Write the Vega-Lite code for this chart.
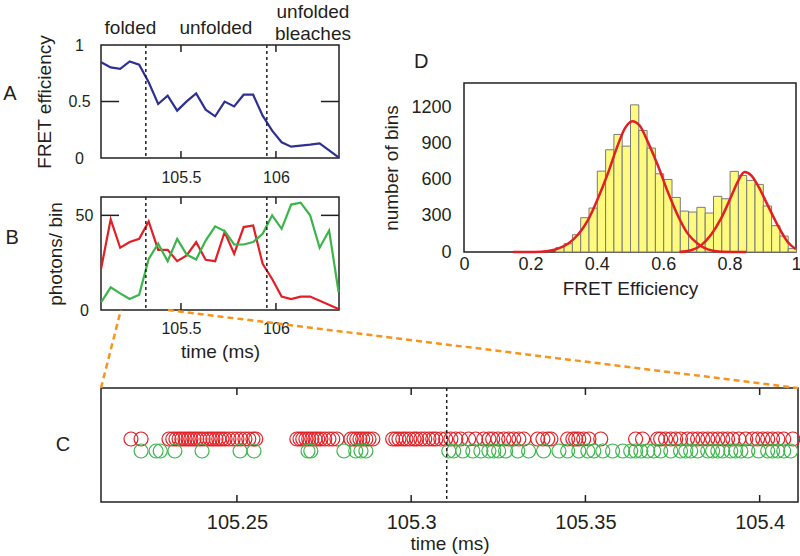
{
  "$schema": "https://vega.github.io/schema/vega-lite/v6.json",
  "padding": {"left": 2, "top": 2, "right": 0, "bottom": 0},
  "background": "white",
  "config": {
    "font": "Liberation Sans",
    "view": {"stroke": "#231f20", "strokeWidth": 1.5},
    "axis": {"domain": false, "grid": false, "ticks": false, "tickSize": 0, "labelColor": "#231f20", "titleColor": "#231f20", "titleFontWeight": "normal", "labelFlush": false, "labelOverlap": false, "titleFontSize": 19, "labelFontSize": 16, "labelExpr": "'' + datum.value"},
    "title": {"fontWeight": "normal", "color": "#231f20", "fontSize": 20},
    "rule": {"color": "#231f20", "strokeWidth": 1.5}
  },
  "datasets": {
    "fret": [
      {"t": 105.08, "E": 0.847}, {"t": 105.13, "E": 0.802}, {"t": 105.18, "E": 0.788}, {"t": 105.23, "E": 0.855},
      {"t": 105.28, "E": 0.826}, {"t": 105.33, "E": 0.670}, {"t": 105.38, "E": 0.478}, {"t": 105.43, "E": 0.552},
      {"t": 105.48, "E": 0.419}, {"t": 105.53, "E": 0.501}, {"t": 105.58, "E": 0.572}, {"t": 105.63, "E": 0.428},
      {"t": 105.68, "E": 0.369}, {"t": 105.73, "E": 0.499}, {"t": 105.78, "E": 0.457}, {"t": 105.83, "E": 0.560},
      {"t": 105.88, "E": 0.560}, {"t": 105.93, "E": 0.375}, {"t": 105.98, "E": 0.242}, {"t": 106.03, "E": 0.139},
      {"t": 106.08, "E": 0.100}, {"t": 106.18, "E": 0.118}, {"t": 106.23, "E": 0.130}, {"t": 106.33, "E": 0.006}
    ],
    "photons": [
      {"t": 105.08, "n": 22.1, "ch": "acceptor"}, {"t": 105.13, "n": 47.9, "ch": "acceptor"}, {"t": 105.18, "n": 32.9, "ch": "acceptor"},
      {"t": 105.23, "n": 35.9, "ch": "acceptor"}, {"t": 105.28, "n": 37.6, "ch": "acceptor"}, {"t": 105.33, "n": 46.8, "ch": "acceptor"},
      {"t": 105.38, "n": 31.8, "ch": "acceptor"}, {"t": 105.43, "n": 31.8, "ch": "acceptor"}, {"t": 105.48, "n": 25.8, "ch": "acceptor"},
      {"t": 105.53, "n": 28.8, "ch": "acceptor"}, {"t": 105.58, "n": 35.9, "ch": "acceptor"}, {"t": 105.63, "n": 26.5, "ch": "acceptor"},
      {"t": 105.68, "n": 25.8, "ch": "acceptor"}, {"t": 105.73, "n": 41.2, "ch": "acceptor"}, {"t": 105.78, "n": 29.7, "ch": "acceptor"},
      {"t": 105.83, "n": 43.8, "ch": "acceptor"}, {"t": 105.88, "n": 44.7, "ch": "acceptor"}, {"t": 105.93, "n": 24.4, "ch": "acceptor"},
      {"t": 105.98, "n": 16.4, "ch": "acceptor"}, {"t": 106.03, "n": 7.1, "ch": "acceptor"}, {"t": 106.08, "n": 5.8, "ch": "acceptor"},
      {"t": 106.13, "n": 7.1, "ch": "acceptor"}, {"t": 106.18, "n": 7.1, "ch": "acceptor"}, {"t": 106.33, "n": 0.5, "ch": "acceptor"},
      {"t": 105.08, "n": 4.1, "ch": "donor"}, {"t": 105.13, "n": 12.0, "ch": "donor"}, {"t": 105.18, "n": 8.8, "ch": "donor"},
      {"t": 105.23, "n": 5.8, "ch": "donor"}, {"t": 105.28, "n": 8.1, "ch": "donor"}, {"t": 105.33, "n": 27.0, "ch": "donor"},
      {"t": 105.38, "n": 35.0, "ch": "donor"}, {"t": 105.43, "n": 25.8, "ch": "donor"}, {"t": 105.48, "n": 37.6, "ch": "donor"},
      {"t": 105.53, "n": 29.3, "ch": "donor"}, {"t": 105.58, "n": 26.7, "ch": "donor"}, {"t": 105.63, "n": 36.7, "ch": "donor"},
      {"t": 105.68, "n": 44.2, "ch": "donor"}, {"t": 105.73, "n": 41.7, "ch": "donor"}, {"t": 105.78, "n": 34.6, "ch": "donor"},
      {"t": 105.83, "n": 34.6, "ch": "donor"}, {"t": 105.88, "n": 35.9, "ch": "donor"}, {"t": 105.93, "n": 40.3, "ch": "donor"},
      {"t": 105.98, "n": 50.0, "ch": "donor"}, {"t": 106.03, "n": 42.9, "ch": "donor"}, {"t": 106.08, "n": 55.7, "ch": "donor"},
      {"t": 106.13, "n": 56.7, "ch": "donor"}, {"t": 106.18, "n": 50.0, "ch": "donor"}, {"t": 106.23, "n": 32.9, "ch": "donor"},
      {"t": 106.28, "n": 42.0, "ch": "donor"}, {"t": 106.33, "n": 9.4, "ch": "donor"}
    ],
    "arrivals": [
      {"t": 105.2196, "ch": "acceptor"}, {"t": 105.2225, "ch": "acceptor"}, {"t": 105.2305, "ch": "acceptor"}, {"t": 105.2316, "ch": "acceptor"},
      {"t": 105.2325, "ch": "acceptor"}, {"t": 105.2334, "ch": "acceptor"}, {"t": 105.2342, "ch": "acceptor"}, {"t": 105.2351, "ch": "acceptor"},
      {"t": 105.2360, "ch": "acceptor"}, {"t": 105.2368, "ch": "acceptor"}, {"t": 105.2377, "ch": "acceptor"}, {"t": 105.2385, "ch": "acceptor"},
      {"t": 105.2394, "ch": "acceptor"}, {"t": 105.2403, "ch": "acceptor"}, {"t": 105.2414, "ch": "acceptor"}, {"t": 105.2423, "ch": "acceptor"},
      {"t": 105.2431, "ch": "acceptor"}, {"t": 105.2440, "ch": "acceptor"}, {"t": 105.2448, "ch": "acceptor"}, {"t": 105.2457, "ch": "acceptor"},
      {"t": 105.2466, "ch": "acceptor"}, {"t": 105.2477, "ch": "acceptor"}, {"t": 105.2489, "ch": "acceptor"}, {"t": 105.2500, "ch": "acceptor"},
      {"t": 105.2511, "ch": "acceptor"}, {"t": 105.2523, "ch": "acceptor"}, {"t": 105.2534, "ch": "acceptor"}, {"t": 105.2546, "ch": "acceptor"},
      {"t": 105.2554, "ch": "acceptor"}, {"t": 105.2672, "ch": "acceptor"}, {"t": 105.2681, "ch": "acceptor"}, {"t": 105.2689, "ch": "acceptor"},
      {"t": 105.2698, "ch": "acceptor"}, {"t": 105.2706, "ch": "acceptor"}, {"t": 105.2715, "ch": "acceptor"}, {"t": 105.2724, "ch": "acceptor"},
      {"t": 105.2732, "ch": "acceptor"}, {"t": 105.2741, "ch": "acceptor"}, {"t": 105.2752, "ch": "acceptor"}, {"t": 105.2764, "ch": "acceptor"},
      {"t": 105.2775, "ch": "acceptor"}, {"t": 105.2787, "ch": "acceptor"}, {"t": 105.2827, "ch": "acceptor"}, {"t": 105.2836, "ch": "acceptor"},
      {"t": 105.2844, "ch": "acceptor"}, {"t": 105.2853, "ch": "acceptor"}, {"t": 105.2861, "ch": "acceptor"}, {"t": 105.2870, "ch": "acceptor"},
      {"t": 105.2879, "ch": "acceptor"}, {"t": 105.2890, "ch": "acceptor"}, {"t": 105.2947, "ch": "acceptor"}, {"t": 105.2956, "ch": "acceptor"},
      {"t": 105.2965, "ch": "acceptor"}, {"t": 105.2976, "ch": "acceptor"}, {"t": 105.2985, "ch": "acceptor"}, {"t": 105.2996, "ch": "acceptor"},
      {"t": 105.3008, "ch": "acceptor"}, {"t": 105.3016, "ch": "acceptor"}, {"t": 105.3028, "ch": "acceptor"}, {"t": 105.3039, "ch": "acceptor"},
      {"t": 105.3051, "ch": "acceptor"}, {"t": 105.3062, "ch": "acceptor"}, {"t": 105.3071, "ch": "acceptor"}, {"t": 105.3085, "ch": "acceptor"},
      {"t": 105.3099, "ch": "acceptor"}, {"t": 105.3114, "ch": "acceptor"}, {"t": 105.3128, "ch": "acceptor"}, {"t": 105.3142, "ch": "acceptor"},
      {"t": 105.3165, "ch": "acceptor"}, {"t": 105.3185, "ch": "acceptor"}, {"t": 105.3208, "ch": "acceptor"}, {"t": 105.3223, "ch": "acceptor"},
      {"t": 105.3234, "ch": "acceptor"}, {"t": 105.3249, "ch": "acceptor"}, {"t": 105.3266, "ch": "acceptor"}, {"t": 105.3280, "ch": "acceptor"},
      {"t": 105.3294, "ch": "acceptor"}, {"t": 105.3309, "ch": "acceptor"}, {"t": 105.3323, "ch": "acceptor"}, {"t": 105.3363, "ch": "acceptor"},
      {"t": 105.3378, "ch": "acceptor"}, {"t": 105.3392, "ch": "acceptor"}, {"t": 105.3401, "ch": "acceptor"}, {"t": 105.3449, "ch": "acceptor"},
      {"t": 105.3464, "ch": "acceptor"}, {"t": 105.3472, "ch": "acceptor"}, {"t": 105.3481, "ch": "acceptor"}, {"t": 105.3495, "ch": "acceptor"},
      {"t": 105.3510, "ch": "acceptor"}, {"t": 105.3544, "ch": "acceptor"}, {"t": 105.3644, "ch": "acceptor"}, {"t": 105.3664, "ch": "acceptor"},
      {"t": 105.3707, "ch": "acceptor"}, {"t": 105.3716, "ch": "acceptor"}, {"t": 105.3730, "ch": "acceptor"}, {"t": 105.3745, "ch": "acceptor"},
      {"t": 105.3759, "ch": "acceptor"}, {"t": 105.3773, "ch": "acceptor"}, {"t": 105.3793, "ch": "acceptor"}, {"t": 105.3808, "ch": "acceptor"},
      {"t": 105.3822, "ch": "acceptor"}, {"t": 105.3837, "ch": "acceptor"}, {"t": 105.3851, "ch": "acceptor"}, {"t": 105.3865, "ch": "acceptor"},
      {"t": 105.3880, "ch": "acceptor"}, {"t": 105.3894, "ch": "acceptor"}, {"t": 105.3908, "ch": "acceptor"}, {"t": 105.3923, "ch": "acceptor"},
      {"t": 105.3940, "ch": "acceptor"}, {"t": 105.3960, "ch": "acceptor"}, {"t": 105.3980, "ch": "acceptor"}, {"t": 105.3994, "ch": "acceptor"},
      {"t": 105.4009, "ch": "acceptor"}, {"t": 105.4023, "ch": "acceptor"}, {"t": 105.4037, "ch": "acceptor"}, {"t": 105.4052, "ch": "acceptor"},
      {"t": 105.4069, "ch": "acceptor"}, {"t": 105.4095, "ch": "acceptor"},
      {"t": 105.2225, "ch": "donor"}, {"t": 105.2268, "ch": "donor"}, {"t": 105.2280, "ch": "donor"}, {"t": 105.2322, "ch": "donor"},
      {"t": 105.2400, "ch": "donor"}, {"t": 105.2509, "ch": "donor"}, {"t": 105.2549, "ch": "donor"}, {"t": 105.2704, "ch": "donor"},
      {"t": 105.2712, "ch": "donor"}, {"t": 105.2807, "ch": "donor"}, {"t": 105.2841, "ch": "donor"}, {"t": 105.2856, "ch": "donor"},
      {"t": 105.2870, "ch": "donor"}, {"t": 105.3108, "ch": "donor"}, {"t": 105.3122, "ch": "donor"}, {"t": 105.3148, "ch": "donor"},
      {"t": 105.3177, "ch": "donor"}, {"t": 105.3200, "ch": "donor"}, {"t": 105.3223, "ch": "donor"}, {"t": 105.3237, "ch": "donor"},
      {"t": 105.3251, "ch": "donor"}, {"t": 105.3271, "ch": "donor"}, {"t": 105.3306, "ch": "donor"}, {"t": 105.3337, "ch": "donor"},
      {"t": 105.3380, "ch": "donor"}, {"t": 105.3424, "ch": "donor"}, {"t": 105.3449, "ch": "donor"}, {"t": 105.3481, "ch": "donor"},
      {"t": 105.3507, "ch": "donor"}, {"t": 105.3524, "ch": "donor"}, {"t": 105.3550, "ch": "donor"}, {"t": 105.3578, "ch": "donor"},
      {"t": 105.3607, "ch": "donor"}, {"t": 105.3630, "ch": "donor"}, {"t": 105.3644, "ch": "donor"}, {"t": 105.3659, "ch": "donor"},
      {"t": 105.3679, "ch": "donor"}, {"t": 105.3696, "ch": "donor"}, {"t": 105.3716, "ch": "donor"}, {"t": 105.3745, "ch": "donor"},
      {"t": 105.3773, "ch": "donor"}, {"t": 105.3788, "ch": "donor"}, {"t": 105.3802, "ch": "donor"}, {"t": 105.3822, "ch": "donor"},
      {"t": 105.3851, "ch": "donor"}, {"t": 105.3865, "ch": "donor"}, {"t": 105.3880, "ch": "donor"}, {"t": 105.3894, "ch": "donor"},
      {"t": 105.3917, "ch": "donor"}, {"t": 105.3931, "ch": "donor"}, {"t": 105.3946, "ch": "donor"}, {"t": 105.3966, "ch": "donor"},
      {"t": 105.3997, "ch": "donor"}, {"t": 105.4023, "ch": "donor"}, {"t": 105.4037, "ch": "donor"}, {"t": 105.4052, "ch": "donor"},
      {"t": 105.4069, "ch": "donor"}, {"t": 105.4089, "ch": "donor"}
    ],
    "hist": [
      {"lo": 0.275, "hi": 0.300, "n": 36}, {"lo": 0.300, "hi": 0.325, "n": 69}, {"lo": 0.325, "hi": 0.350, "n": 143},
      {"lo": 0.350, "hi": 0.375, "n": 284}, {"lo": 0.375, "hi": 0.400, "n": 364}, {"lo": 0.400, "hi": 0.425, "n": 670},
      {"lo": 0.425, "hi": 0.450, "n": 847}, {"lo": 0.450, "hi": 0.475, "n": 974}, {"lo": 0.475, "hi": 0.500, "n": 877},
      {"lo": 0.500, "hi": 0.525, "n": 1219}, {"lo": 0.525, "hi": 0.550, "n": 1007}, {"lo": 0.550, "hi": 0.575, "n": 861},
      {"lo": 0.575, "hi": 0.600, "n": 648}, {"lo": 0.600, "hi": 0.625, "n": 601}, {"lo": 0.625, "hi": 0.650, "n": 452},
      {"lo": 0.650, "hi": 0.675, "n": 339}, {"lo": 0.675, "hi": 0.700, "n": 331}, {"lo": 0.700, "hi": 0.725, "n": 370},
      {"lo": 0.725, "hi": 0.750, "n": 323}, {"lo": 0.750, "hi": 0.775, "n": 461}, {"lo": 0.775, "hi": 0.800, "n": 441},
      {"lo": 0.800, "hi": 0.825, "n": 668}, {"lo": 0.825, "hi": 0.850, "n": 634}, {"lo": 0.850, "hi": 0.875, "n": 593},
      {"lo": 0.875, "hi": 0.900, "n": 560}, {"lo": 0.900, "hi": 0.925, "n": 381}, {"lo": 0.925, "hi": 0.950, "n": 218},
      {"lo": 0.950, "hi": 0.975, "n": 132}, {"lo": 0.975, "hi": 1.000, "n": 28}
    ],
    "fits": [
      {"peak": "unfolded", "e": 0.147, "n": 0}, {"peak": "unfolded", "e": 0.213, "n": 0}, {"peak": "unfolded", "e": 0.253, "n": 8},
      {"peak": "unfolded", "e": 0.283, "n": 28}, {"peak": "unfolded", "e": 0.313, "n": 69}, {"peak": "unfolded", "e": 0.343, "n": 143},
      {"peak": "unfolded", "e": 0.373, "n": 262}, {"peak": "unfolded", "e": 0.403, "n": 441}, {"peak": "unfolded", "e": 0.433, "n": 648},
      {"peak": "unfolded", "e": 0.463, "n": 883}, {"peak": "unfolded", "e": 0.485, "n": 1026}, {"peak": "unfolded", "e": 0.507, "n": 1084},
      {"peak": "unfolded", "e": 0.529, "n": 1048}, {"peak": "unfolded", "e": 0.554, "n": 910}, {"peak": "unfolded", "e": 0.584, "n": 717},
      {"peak": "unfolded", "e": 0.614, "n": 497}, {"peak": "unfolded", "e": 0.644, "n": 303}, {"peak": "unfolded", "e": 0.674, "n": 152},
      {"peak": "unfolded", "e": 0.704, "n": 69}, {"peak": "unfolded", "e": 0.734, "n": 22}, {"peak": "unfolded", "e": 0.774, "n": 3},
      {"peak": "unfolded", "e": 0.850, "n": 0},
      {"peak": "folded", "e": 0.649, "n": 0}, {"peak": "folded", "e": 0.684, "n": 14}, {"peak": "folded", "e": 0.714, "n": 55},
      {"peak": "folded", "e": 0.744, "n": 143}, {"peak": "folded", "e": 0.774, "n": 276}, {"peak": "folded", "e": 0.804, "n": 455},
      {"peak": "folded", "e": 0.824, "n": 579}, {"peak": "folded", "e": 0.845, "n": 662}, {"peak": "folded", "e": 0.865, "n": 634},
      {"peak": "folded", "e": 0.885, "n": 552}, {"peak": "folded", "e": 0.915, "n": 386}, {"peak": "folded", "e": 0.945, "n": 221},
      {"peak": "folded", "e": 0.975, "n": 83}, {"peak": "folded", "e": 1.0, "n": 22}
    ]
  },
  "bounds": "flush",
  "spacing": 343,
  "vconcat": [
    {
      "bounds": "flush",
      "spacing": 363,
      "hconcat": [
        {
          "bounds": "flush",
          "spacing": 39,
          "vconcat": [
            {
              "width": 238, "height": 113,
              "title": {"text": "A", "orient": "left", "angle": 0, "align": "right", "baseline": "middle", "anchor": "middle", "frame": "group", "offset": 6, "dy": -8},
              "layer": [
                {
                  "data": {"name": "fret"},
                  "mark": {"type": "line", "color": "#2e3192", "strokeWidth": 2.2},
                  "encoding": {
                    "x": {"field": "t", "type": "quantitative", "scale": {"domain": [105.079, 106.332], "nice": false, "zero": false},
                          "axis": {"orient": "bottom", "values": [105.5, 106], "labelPadding": 11, "title": null}},
                    "y": {"field": "E", "type": "quantitative", "scale": {"domain": [0, 1], "nice": false},
                          "axis": {"orient": "left", "values": [0, 0.5, 1], "labelPadding": 22, "labelAlign": "center", "title": "FRET efficiency", "titlePadding": 13}}
                  }
                },
                {
                  "data": {"values": [{"t": 105.315}, {"t": 105.952}]},
                  "mark": {"type": "rule", "strokeDash": [3, 3]},
                  "encoding": {"x": {"field": "t", "type": "quantitative", "axis": {"orient": "top", "values": [105.5], "labels": false, "title": null}}}
                },
                {
                  "data": {"values": [{"v": 0.5}]},
                  "mark": {"type": "rule"},
                  "encoding": {"y": {"field": "v", "type": "quantitative", "axis": {"orient": "right", "values": [0.5], "labels": false, "title": null}}, "x": {"datum": 105.079, "type": "quantitative", "axis": null}, "x2": {"datum": 105.174}}
                },
                {
                  "data": {"values": [{"v": 0.5}]},
                  "mark": {"type": "rule"},
                  "encoding": {"y": {"field": "v", "type": "quantitative", "axis": null}, "x": {"datum": 106.237, "type": "quantitative", "axis": null}, "x2": {"datum": 106.332}}
                },
                {
                  "data": {"values": [{"v": 105.5}, {"v": 106}]},
                  "mark": {"type": "rule"},
                  "encoding": {"x": {"field": "v", "type": "quantitative", "axis": null}, "y": {"datum": 0, "type": "quantitative", "axis": null}, "y2": {"datum": 0.062}}
                },
                {
                  "data": {"values": [{"v": 105.5}, {"v": 106}]},
                  "mark": {"type": "rule"},
                  "encoding": {"x": {"field": "v", "type": "quantitative", "axis": null}, "y": {"datum": 0.938, "type": "quantitative", "axis": null}, "y2": {"datum": 1}}
                },
                {
                  "data": {"values": [{"t": 105.234, "label": "folded"}, {"t": 105.684, "label": "unfolded"}]},
                  "mark": {"type": "text", "fontSize": 19, "baseline": "alphabetic", "color": "#231f20", "clip": false},
                  "encoding": {
                    "x": {"field": "t", "type": "quantitative", "axis": null},
                    "y": {"datum": 1.097, "type": "quantitative", "axis": null},
                    "text": {"field": "label"}
                  }
                },
                {
                  "data": {"values": [{"t": 106.195, "label": "unfolded\nbleaches"}]},
                  "mark": {"type": "text", "fontSize": 19, "baseline": "alphabetic", "lineBreak": "\n", "lineHeight": 22, "dy": -16, "color": "#231f20", "clip": false},
                  "encoding": {
                    "x": {"field": "t", "type": "quantitative", "axis": null},
                    "y": {"datum": 1.097, "type": "quantitative", "axis": null},
                    "text": {"field": "label"}
                  }
                }
              ]
            },
            {
              "width": 238, "height": 113,
              "title": {"text": "B", "orient": "left", "angle": 0, "align": "right", "baseline": "middle", "anchor": "middle", "frame": "group", "offset": 14, "dy": -16},
              "layer": [
                {
                  "data": {"name": "photons"},
                  "mark": {"type": "line", "strokeWidth": 2.2},
                  "encoding": {
                    "x": {"field": "t", "type": "quantitative", "scale": {"domain": [105.079, 106.332], "nice": false, "zero": false},
                          "axis": {"orient": "bottom", "values": [105.5, 106], "labelPadding": 10, "title": "time (ms)", "titlePadding": 6}},
                    "y": {"field": "n", "type": "quantitative", "scale": {"domain": [0, 59.7], "nice": false},
                          "axis": {"orient": "left", "values": [0, 50], "labelPadding": 17, "labelAlign": "center", "title": "photons/ bin", "titlePadding": 10}},
                    "color": {"field": "ch", "type": "nominal", "scale": {"domain": ["acceptor", "donor"], "range": ["#e31e24", "#3ab54a"]}, "legend": null}
                  }
                },
                {
                  "data": {"values": [{"t": 105.315}, {"t": 105.952}]},
                  "mark": {"type": "rule", "strokeDash": [3, 3]},
                  "encoding": {"x": {"field": "t", "type": "quantitative", "axis": {"orient": "top", "values": [105.5], "labels": false, "title": null}}}
                },
                {
                  "data": {"values": [{"v": 50}]},
                  "mark": {"type": "rule"},
                  "encoding": {"y": {"field": "v", "type": "quantitative", "axis": {"orient": "right", "values": [50], "labels": false, "title": null}}, "x": {"datum": 105.079, "type": "quantitative", "axis": null}, "x2": {"datum": 105.174}}
                },
                {
                  "data": {"values": [{"v": 50}]},
                  "mark": {"type": "rule"},
                  "encoding": {"y": {"field": "v", "type": "quantitative", "axis": null}, "x": {"datum": 106.237, "type": "quantitative", "axis": null}, "x2": {"datum": 106.332}}
                },
                {
                  "data": {"values": [{"v": 105.5}, {"v": 106}]},
                  "mark": {"type": "rule"},
                  "encoding": {"x": {"field": "v", "type": "quantitative", "axis": null}, "y": {"datum": 0, "type": "quantitative", "axis": null}, "y2": {"datum": 3.7}}
                },
                {
                  "data": {"values": [{"v": 105.5}, {"v": 106}]},
                  "mark": {"type": "rule"},
                  "encoding": {"x": {"field": "v", "type": "quantitative", "axis": null}, "y": {"datum": 56.0, "type": "quantitative", "axis": null}, "y2": {"datum": 59.7}}
                }
              ]
            }
          ]
        },
        {
          "bounds": "flush",
          "spacing": 0,
          "vconcat": [
            {
              "width": 332, "height": 38,
              "view": {"stroke": null},
              "data": {"values": []},
              "mark": "point",
              "encoding": {}
            },
            {
              "width": 332, "height": 169,
              "title": {"text": "D", "orient": "top", "anchor": "start", "frame": "group", "align": "left", "baseline": "alphabetic", "offset": 11, "dx": -50, "dy": 16},
              "layer": [
                {
                  "data": {"name": "hist"},
                  "mark": {"type": "bar", "fill": "#fdfa7d", "stroke": "#7a7a7a", "strokeWidth": 1, "binSpacing": 0},
                  "encoding": {
                    "x": {"field": "lo", "type": "quantitative", "bin": "binned", "scale": {"domain": [0, 1], "nice": false, "zero": false},
                          "axis": {"values": [0, 0.2, 0.4, 0.6, 0.8, 1], "labelPadding": 3, "labelFontSize": 18, "title": "FRET Efficiency", "titlePadding": 6}},
                    "x2": {"field": "hi"},
                    "y": {"field": "n", "type": "quantitative", "scale": {"domain": [0, 1400], "nice": false},
                          "axis": {"values": [0, 300, 600, 900, 1200], "labelPadding": 13, "labelFontSize": 18, "title": "number of bins", "titlePadding": 9}}
                  }
                },
                {
                  "data": {"name": "fits"},
                  "mark": {"type": "line", "color": "#e31e24", "strokeWidth": 2.5, "interpolate": "monotone"},
                  "encoding": {
                    "x": {"field": "e", "type": "quantitative"},
                    "y": {"field": "n", "type": "quantitative"},
                    "detail": {"field": "peak", "type": "nominal"}
                  }
                }
              ]
            }
          ]
        }
      ]
    },
    {
      "width": 697, "height": 114,
      "title": {"text": "C", "orient": "left", "angle": 0, "align": "right", "baseline": "middle", "anchor": "middle", "frame": "group", "offset": 15},
      "resolve": {"scale": {"y": "independent"}},
      "layer": [
        {
          "data": {"name": "arrivals"},
          "mark": {"type": "point", "shape": "circle", "filled": false, "size": 196, "strokeWidth": 1.2, "opacity": 1},
          "encoding": {
            "x": {"field": "t", "type": "quantitative", "scale": {"domain": [105.211, 105.411], "nice": false, "zero": false},
                  "axis": {"orient": "bottom", "values": [105.25, 105.3, 105.35, 105.4], "labelPadding": 10, "labelFontSize": 20, "title": "time (ms)", "titlePadding": 2}},
            "y": {"field": "ch", "type": "nominal", "scale": {"type": "point", "padding": 0, "domain": ["acceptor", "donor"], "range": [51, 63]}, "axis": null},
            "color": {"field": "ch", "type": "nominal", "scale": {"domain": ["acceptor", "donor"], "range": ["#e8312a", "#45b549"]}, "legend": null}
          }
        },
        {
          "data": {"values": [{"t": 105.3102}]},
          "mark": {"type": "rule", "strokeDash": [3, 3]},
          "encoding": {"x": {"field": "t", "type": "quantitative", "axis": {"orient": "top", "values": [105.25], "labels": false, "title": null}}}
        },
        {
          "data": {"values": [{"v": 105.25}, {"v": 105.3}, {"v": 105.35}, {"v": 105.4}]},
          "mark": {"type": "rule"},
          "encoding": {"x": {"field": "v", "type": "quantitative", "axis": null}, "y": {"datum": 0, "type": "quantitative", "scale": {"domain": [0, 1], "nice": false}, "axis": null}, "y2": {"datum": 0.061}}
        },
        {
          "data": {"values": [{"v": 105.25}, {"v": 105.3}, {"v": 105.35}, {"v": 105.4}]},
          "mark": {"type": "rule"},
          "encoding": {"x": {"field": "v", "type": "quantitative", "axis": null}, "y": {"datum": 0.939, "type": "quantitative", "scale": {"domain": [0, 1], "nice": false}, "axis": null}, "y2": {"datum": 1}}
        },
        {
          "data": {"values": [{}]},
          "mark": {"type": "rule", "color": "#f7941d", "strokeWidth": 2.5, "strokeDash": [6, 4], "clip": false},
          "encoding": {
            "x": {"datum": 105.211, "type": "quantitative", "axis": null},
            "x2": {"datum": 105.2167},
            "y": {"datum": 1, "type": "quantitative", "scale": {"domain": [0, 1], "nice": false}, "axis": null},
            "y2": {"datum": 1.684}
          }
        },
        {
          "data": {"values": [{}]},
          "mark": {"type": "rule", "color": "#f7941d", "strokeWidth": 2.5, "strokeDash": [6, 4], "clip": false},
          "encoding": {
            "x": {"datum": 105.2302, "type": "quantitative", "axis": null},
            "x2": {"datum": 105.411},
            "y": {"datum": 1.684, "type": "quantitative", "scale": {"domain": [0, 1], "nice": false}, "axis": null},
            "y2": {"datum": 1.0}
          }
        }
      ]
    }
  ]
}
